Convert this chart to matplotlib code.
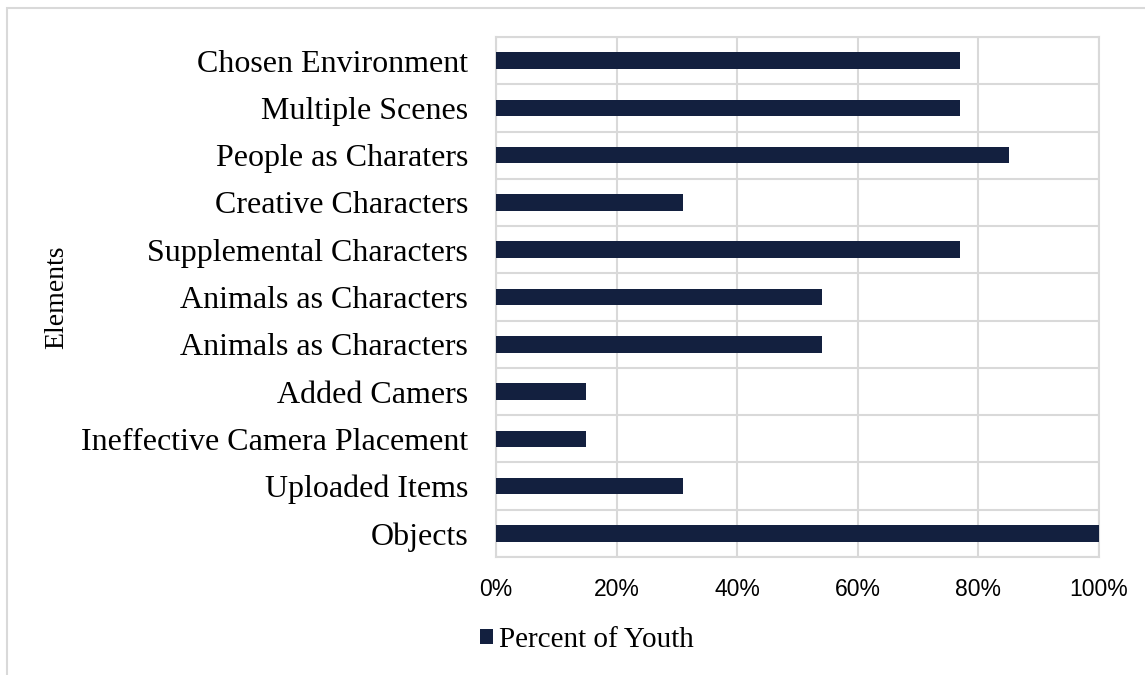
import matplotlib
matplotlib.use('Agg')
import matplotlib.pyplot as plt
from matplotlib.patches import Rectangle
from matplotlib.ticker import PercentFormatter, FixedLocator

# elements listed top to bottom as they appear on the chart
elements = ['Chosen Environment', 'Multiple Scenes', 'People as Charaters',
            'Creative Characters', 'Supplemental Characters', 'Animals as Characters',
            'Animals as Characters', 'Added Camers', 'Ineffective Camera Placement',
            'Uploaded Items', 'Objects']
percent_youth = [0.77, 0.77, 0.85, 0.31, 0.77, 0.54, 0.54, 0.15, 0.15, 0.31, 1.00]
x_ticks = [0, 0.2, 0.4, 0.6, 0.8, 1.0]

W, H = 1145, 675
fig = plt.figure(figsize=(W / 100, H / 100), dpi=100)
ax = fig.add_axes([496 / W, 1 - 557 / H, 603 / W, 520 / H])

grid_c = '#D9D9D9'
bar_c = '#13203F'

pos = list(range(len(elements)))
ax.barh(pos, percent_youth, height=0.35, color=bar_c, label='Percent of Youth', zorder=3)

ax.set_xlim(0, 1)
ax.set_ylim(len(elements) - 0.5, -0.5)
ax.set_xticks(x_ticks)
ax.xaxis.set_major_formatter(PercentFormatter(1.0, decimals=0))
ax.set_yticks(pos)
ax.set_yticklabels(elements, family='Liberation Serif', fontsize=23)
ax.yaxis.set_minor_locator(FixedLocator([p - 0.5 for p in pos] + [len(pos) - 0.5]))

for lab in ax.get_xticklabels():
    lab.set_family('Liberation Sans')
    lab.set_fontsize(16.5)

ax.tick_params(axis='both', which='both', length=0)
ax.tick_params(axis='y', pad=20)
ax.tick_params(axis='x', pad=15)
ax.grid(axis='x', which='major', color=grid_c, linewidth=1.5, zorder=0)
ax.grid(axis='y', which='minor', color=grid_c, linewidth=1.5, zorder=0)
for s in ax.spines.values():
    s.set_color(grid_c)
    s.set_linewidth(1.5)

fig.text(57 / W, 1 - 297 / H, 'Elements', rotation=90, ha='center', va='center',
         family='Liberation Serif', fontsize=20)

fig.legend(loc='center left', bbox_to_anchor=(480 / W, 1 - 640 / H), frameon=False,
           handlelength=0.45, handleheight=0.45, handletextpad=0.2, borderpad=0,
           borderaxespad=0, prop={'family': 'Liberation Serif', 'size': 21})

# light border around the whole chart area
fig.patches.append(Rectangle((7 / W, -0.1), 1.2, 1.1 - 8 / H, transform=fig.transFigure,
                             fill=False, edgecolor=grid_c, linewidth=1.5))

fig.savefig('out.png', dpi=100)
